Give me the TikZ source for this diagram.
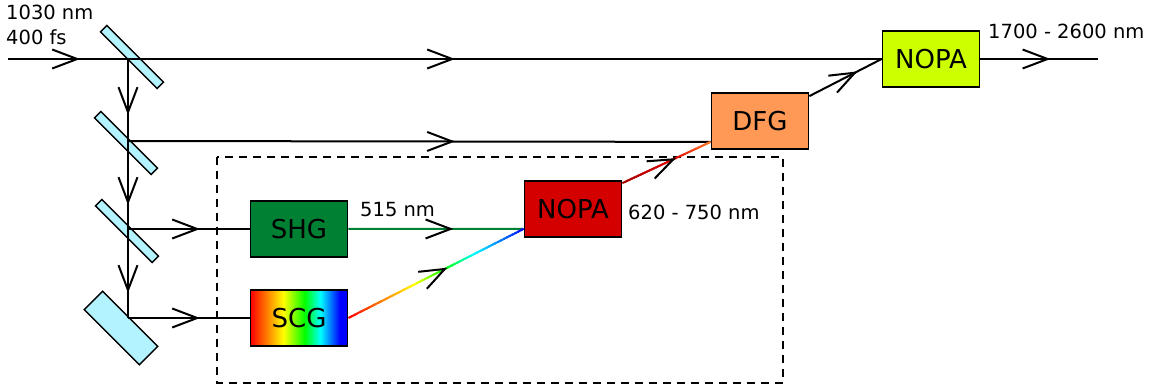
\documentclass[tikz,border=0pt]{standalone}
\usepackage{fontspec}
\setmainfont{DejaVu Sans}
\usetikzlibrary{arrows.meta,decorations.markings,calc}

\definecolor{mirrorblue}{HTML}{B3F2FF}
\definecolor{shggreen}{HTML}{008033}
\definecolor{nopared}{HTML}{D40000}
\definecolor{dfgorange}{HTML}{FF9955}
\definecolor{nopalime}{HTML}{CCFF00}
\definecolor{darkred}{HTML}{AA0000}
\definecolor{midred}{HTML}{E00000}
\definecolor{idlerorange}{HTML}{FF7F2A}

\pgfdeclarehorizontalshading{spectrum}{100bp}{color(0bp)=(red); color(25bp)=(red);
  color(42bp)=(yellow); color(53bp)=(green); color(61bp)=(cyan); color(71bp)=(blue);
  color(100bp)=(blue)}

\tikzset{
  barb/.tip={Straight Barb[length=25pt,width=19pt]},
  beam/.style={line width=2pt},
  arrowat/.style={postaction={decorate,decoration={markings,
      mark=at position #1 with {\arrow[black]{barb}}}}},
  mirror/.style={draw, line width=1.5pt, fill=mirrorblue, rotate=-45,
    minimum width=80pt, minimum height=9pt, inner sep=0pt},
  box/.style={draw, line width=1.8pt, minimum width=97pt, minimum height=56pt,
    inner sep=0pt, font=\fontsize{26}{30}\selectfont},
  label/.style={anchor=base west, inner sep=0pt, font=\fontsize{19.5}{23}\selectfont},
}

\begin{document}
\begin{tikzpicture}[x=1pt, y=-1pt]
  \useasboundingbox (0,0) rectangle (1156,387);

  % OPA stage in the dashed frame
  \draw[line width=1.5pt, dash pattern=on 8pt off 6pt] (217,157) rectangle (783,383);

  % Beam splitters
  \node[mirror] (m1) at (132,57) {};
  \node[mirror] (m2) at (126,143) {};
  \node[mirror] (m3) at (127,231) {};
  \node[mirror, minimum width=78pt, minimum height=26pt] (m4) at (121,328) {};

  % Define the points
  \coordinate (src) at (8,59);
  \coordinate (h1) at (128,59);
  \coordinate (h2) at (128,141);
  \coordinate (h3) at (128,229);
  \coordinate (h4) at (128,318);
  \coordinate (out) at (1098,59);

  % Boxes
  \node[box, fill=shggreen] (shg) at (299,229) {SHG};
  \node[box, shade, shading=spectrum] (scg) at (299,318) {SCG};
  \node[box, fill=nopared] (nopaA) at (573,209) {NOPA};
  \node[box, fill=dfgorange] (dfg) at (760,121) {DFG};
  \node[box, fill=nopalime] (nopaB) at (931,59) {NOPA};

  \coordinate (join) at ([yshift=9pt]nopaA.south west);
  \coordinate (dfgin) at ([yshift=8pt]dfg.south west);
  \coordinate (idler) at ([yshift=-3pt]nopaA.north east);
  \coordinate (dfgout) at ([yshift=-4pt]dfg.north east);

  % Draw the fundamental beams
  \draw[beam, arrowat=72pt, arrowat=447pt] (src) -- (nopaB.west);
  \draw[beam, arrowat=56pt, arrowat=146pt, arrowat=234pt] (h1) -- (h4);
  \draw[beam, arrowat=327pt] (h2) -- (dfgin);
  \draw[beam, arrowat=72pt] (h3) -- (shg.west);
  \draw[beam, arrowat=72pt] (h4) -- (scg.west);

  % Pump and seed into the NOPA
  \draw[beam, shggreen, arrowat=105pt] (shg.east) -- (join);
  \foreach \i in {0,...,59} {
    \pgfmathsetmacro\s{\i/60}
    \pgfmathsetmacro\e{min(1,(\i+1.5)/60)}
    \pgfmathsetmacro\h{\s<0.37 ? \s/0.37*60 : (\s<0.54 ? 60+(\s-0.37)/0.17*60 :
      (\s<0.71 ? 120+(\s-0.54)/0.17*60 : 180+(\s-0.71)/0.29*60))}
    \definecolor{seg}{Hsb}{\h,1,1}
    \draw[beam, seg] ($(scg.east)!\s!(join)$) -- ($(scg.east)!\e!(join)$);
  }
  \path[beam, arrowat=111pt] (scg.east) -- (join);

  % Signal to the DFG
  \foreach \i in {0,...,39} {
    \pgfmathsetmacro\s{\i/40}
    \pgfmathsetmacro\e{min(1,(\i+1.5)/40)}
    \ifdim\s pt<0.55pt
      \pgfmathsetmacro\p{100*\s/0.55}
      \colorlet{seg}{midred!\p!darkred}
    \else
      \pgfmathsetmacro\p{100*(\s-0.55)/0.45}
      \colorlet{seg}{idlerorange!\p!midred}
    \fi
    \draw[beam, seg] ($(idler)!\s!(dfgin)$) -- ($(idler)!\e!(dfgin)$);
  }
  \path[beam, arrowat=59pt] (idler) -- (dfgin);

  % DFG output and final stage
  \draw[beam, arrowat=54pt] (dfgout) -- (nopaB.west);
  \draw[beam, arrowat=70pt] (nopaB.east) -- (out);

  % Label the beams
  \node[label] at (6,20) {1030 nm};
  \node[label] at (6,45) {400 fs};
  \node[label] at (360,217) {515 nm};
  \node[label] at (628,220) {620 - 750 nm};
  \node[label] at (988,39) {1700 - 2600 nm};
\end{tikzpicture}
\end{document}
